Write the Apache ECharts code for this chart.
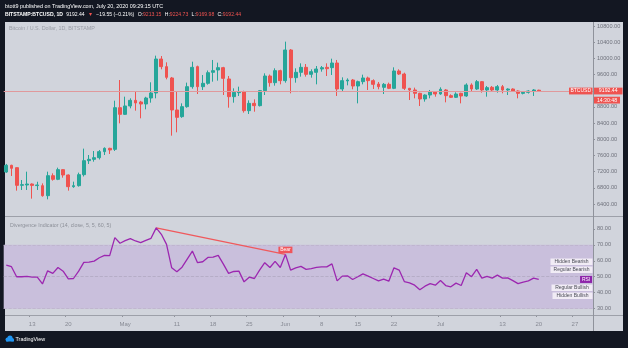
<!DOCTYPE html>
<html>
<head>
<meta charset="utf-8">
<script src="https://cdn.jsdelivr.net/npm/echarts@6/dist/echarts.min.js"></script>
<style>
  html, body { margin: 0; padding: 0; background: #131722; }
  #chart { width: 628px; height: 348px; }
</style>
</head>
<body>
<div id="chart"></div>
<script>
// ---- BTC/USD daily candles, Bitstamp, 8 Apr – 20 Jul 2020 ----
const firstDay = '2020-04-08';
const axisDays = 114; // trading days plus empty space to the right

const opens = [
  7191, 7356, 7298, 6862, 6870, 6894, 6855, 6853, 6606, 7100,
  7010, 7249, 7117, 6828, 6853, 7125, 7471, 7504, 7545, 7694,
  7776, 7751, 8781, 8616, 8823, 8962, 8921, 8872, 9020, 9144,
  9984, 9795, 9515, 8724, 8559, 8806, 9300, 9795, 9300, 9383,
  9655, 9712, 9770, 9490, 9053, 9152, 9169, 8707, 8888, 8831,
  9202, 9564, 9399, 9696, 9449, 10207, 9523, 9655, 9778, 9605,
  9655, 9737, 9778, 9770, 9885, 9243, 9441, 9465, 9317, 9424,
  9515, 9449, 9366, 9284, 9358, 9259, 9688, 9613, 9259, 9218,
  9136, 8996, 9094, 9177, 9119, 9218, 9078, 9037, 9136, 9070,
  9342, 9243, 9424, 9218, 9284, 9218, 9300, 9218, 9242, 9193,
  9135, 9160, 9193, 9213.15
];
const closes = [
  7356, 7282, 6861, 6878, 6894, 6860, 6870, 6606, 7100, 7010,
  7249, 7117, 6828, 6853, 7125, 7471, 7504, 7545, 7694, 7776,
  7735, 8781, 8616, 8823, 8962, 8897, 8872, 9020, 9144, 9984,
  9795, 9531, 8724, 8542, 8806, 9300, 9778, 9300, 9383, 9646,
  9696, 9770, 9506, 9053, 9160, 9177, 8707, 8888, 8831, 9202,
  9564, 9399, 9696, 9449, 10207, 9523, 9655, 9778, 9605, 9671,
  9737, 9770, 9745, 9885, 9243, 9449, 9465, 9317, 9424, 9515,
  9449, 9358, 9300, 9358, 9259, 9688, 9613, 9259, 9218, 9136,
  8996, 9094, 9177, 9119, 9235, 9078, 9037, 9119, 9070, 9342,
  9243, 9424, 9218, 9276, 9218, 9300, 9218, 9242, 9193, 9135,
  9160, 9193, 9218, 9192.44
];
const lows = [
  7170, 7092, 6730, 6746, 6746, 6532, 6746, 6580, 6515, 6977,
  6990, 7051, 6730, 6800, 6830, 7080, 7389, 7446, 7500, 7611,
  7636, 7710, 8394, 8600, 8765, 8707, 8518, 8740, 8905, 9012,
  9729, 9482, 8089, 8172, 8530, 8780, 9250, 9119, 9218, 9350,
  9424, 9449, 9094, 8781, 8905, 9070, 8658, 8625, 8682, 8810,
  9094, 9300, 9325, 9358, 9399, 9136, 9399, 9548, 9548, 9523,
  9358, 9671, 9564, 9589, 9070, 9177, 9333, 9235, 8888, 9358,
  9218, 9243, 9235, 9119, 9240, 9240, 9589, 9218, 8970, 9012,
  8822, 8930, 9012, 9053, 9100, 8913, 9020, 9020, 8888, 9050,
  9193, 9220, 9152, 9053, 9190, 9152, 9136, 9094, 9170, 9012,
  9110, 9130, 9070, 9169.98
];
const highs = [
  7390, 7370, 7300, 6993, 7199, 6910, 6950, 6910, 7199, 7158,
  7298, 7260, 7130, 6952, 7175, 7768, 7611, 7710, 7735, 7800,
  7790, 8954, 9465, 9053, 9012, 9177, 8950, 9050, 9408, 10067,
  10058, 9902, 9540, 9177, 8888, 9400, 9918, 9820, 9589, 9700,
  9960, 9894, 9790, 9564, 9259, 9300, 9200, 8962, 8987, 9218,
  9630, 9600, 9754, 9720, 10413, 10230, 9754, 9877, 9860, 9729,
  9811, 9811, 9877, 9992, 9960, 9531, 9506, 9490, 9449, 9597,
  9548, 9482, 9416, 9391, 9400, 9778, 9729, 9646, 9270, 9276,
  9150, 9110, 9218, 9190, 9284, 9240, 9111, 9160, 9150, 9383,
  9383, 9465, 9440, 9317, 9317, 9342, 9342, 9260, 9260, 9210,
  9180, 9210, 9240, 9224.73
];

// RSI(14) of the close, shown in the divergence pane
const rsi = [
  57.3, 56.3, 50.0, 50.0, 50.2, 49.8, 49.8, 45.5, 53.7, 52.1,
  55.8, 53.5, 48.7, 48.9, 53.5, 59.0, 59.2, 59.8, 61.9, 63.4,
  63.2, 74.5, 71.0, 72.6, 73.9, 72.4, 71.4, 72.8, 74.1, 80.6,
  76.6, 70.3, 55.6, 53.1, 56.0, 61.1, 66.1, 58.8, 59.4, 62.1,
  62.3, 63.4, 57.9, 52.1, 53.3, 53.5, 46.8, 49.7, 48.9, 54.1,
  58.8, 55.8, 59.6, 55.8, 64.0, 54.2, 55.6, 56.5, 54.6, 55.1,
  55.9, 56.2, 56.2, 58.1, 47.4, 50.4, 50.6, 48.3, 50.0, 51.8,
  50.4, 48.9, 47.4, 48.5, 47.2, 55.6, 54.2, 47.0, 46.2, 44.7,
  41.8, 44.1, 45.7, 44.7, 47.6, 44.5, 43.7, 46.0, 44.5, 52.5,
  50.0, 54.6, 49.1, 50.2, 49.1, 51.0, 49.1, 49.3, 47.6, 45.7,
  46.6, 47.4, 49.1, 48.3
];

// bearish divergence: RSI pivot highs (index into the series)
const bearFrom = 29; // 7 May
const bearTo = 54;   // 1 Jun

// axis ticks
const priceTicks = [6400, 6800, 7200, 7600, 8000, 8400, 8800, 9200, 9600, 10000, 10400, 10800];
const rsiTicks = [30, 40, 50, 60, 70, 80];
const tickDates = ['2020-04-13', '2020-04-20', '2020-05-01', '2020-05-11', '2020-05-18', '2020-05-25',
  '2020-06-01', '2020-06-08', '2020-06-15', '2020-06-22', '2020-07-01', '2020-07-13', '2020-07-20', '2020-07-27'];
const tickLabels = ['13', '20', 'May', '11', '18', '25', 'Jun', '8', '15', '22', 'Jul', '13', '20', '27'];

// calendar days for the time axis
function dayList(start, n) {
  const out = [];
  const d = new Date(start + 'T00:00:00Z');
  for (let i = 0; i < n; i++) {
    out.push(d.toISOString().slice(0, 10));
    d.setUTCDate(d.getUTCDate() + 1);
  }
  return out;
}
const days = dayList(firstDay, axisDays);

const UP = '#26a69a', DOWN = '#ef5350';
const FONT = '"Liberation Sans", "DejaVu Sans", sans-serif';
const candles = opens.map((o, i) => [o, closes[i], lows[i], highs[i]]);
const last = closes.length - 1;

const chart = echarts.init(document.getElementById('chart'), null, { renderer: 'canvas' });

const PANE_L = 3.7, PANE_R = 35;

chart.setOption({
  backgroundColor: '#131722',
  animation: false,
  grid: [
    { left: PANE_L, right: PANE_R, top: 22, height: 194.5, outerBoundsMode: 'none' },
    { left: PANE_L, right: PANE_R, top: 217.5, height: 97.5, outerBoundsMode: 'none' }
  ],
  xAxis: [
    { type: 'category', gridIndex: 0, data: days, boundaryGap: true,
      axisLine: { show: false }, axisTick: { show: false }, axisLabel: { show: false }, splitLine: { show: false } },
    { type: 'category', gridIndex: 1, data: days, boundaryGap: true,
      axisLine: { show: false },
      axisTick: { show: true, inside: false, length: 2, lineStyle: { color: '#8f929b' },
        interval: (idx, val) => tickDates.includes(val) },
      axisLabel: { show: true, margin: 6, fontSize: 6, color: '#878a94', fontFamily: FONT,
        interval: (idx, val) => tickDates.includes(val),
        formatter: (val) => tickLabels[tickDates.indexOf(val)] },
      splitLine: { show: false } }
  ],
  yAxis: [
    { type: 'value', gridIndex: 0, position: 'right', min: 6090.8, max: 10898.9,
      axisLine: { show: false }, splitLine: { show: false },
      axisTick: { show: true, length: 2, customValues: priceTicks, lineStyle: { color: '#8f929b' } },
      axisLabel: { show: true, customValues: priceTicks, margin: 4, fontSize: 5.6, color: '#6f727c',
        fontFamily: FONT, formatter: (v) => v.toFixed(2) } },
    { type: 'value', gridIndex: 1, position: 'right', min: 26.03, max: 87.12,
      axisLine: { show: false }, splitLine: { show: false },
      axisTick: { show: true, length: 2, customValues: rsiTicks, lineStyle: { color: '#8f929b' } },
      axisLabel: { show: true, customValues: rsiTicks, margin: 4, fontSize: 5.6, color: '#6f727c',
        fontFamily: FONT, formatter: (v) => v.toFixed(2) } }
  ],
  series: [
    {
      type: 'candlestick', xAxisIndex: 0, yAxisIndex: 0,
      data: candles, barWidth: 3.4,
      itemStyle: { color: UP, color0: DOWN, borderColor: UP, borderColor0: DOWN, borderWidth: 1 },
      markLine: {
        silent: true, symbol: 'none', animation: false,
        label: { show: false },
        lineStyle: { color: '#e0999c', type: 'solid', width: 1 },
        data: [{ yAxis: closes[last] }]
      }
    },
    {
      type: 'line', xAxisIndex: 1, yAxisIndex: 1,
      data: rsi, symbol: 'none', smooth: false,
      lineStyle: { color: '#9c27b0', width: 1.3 },
      z: 5,
      markArea: {
        silent: true,
        itemStyle: { color: '#c9bfdc' },
        data: [[{ yAxis: 30 }, { yAxis: 70 }]]
      },
      markLine: {
        silent: true, symbol: 'none', animation: false,
        label: { show: false },
        data: [
          { yAxis: 70, lineStyle: { color: '#bcb3cc', type: 'dashed', width: 0.8 } },
          { yAxis: 50, lineStyle: { color: '#b1a8c2', type: 'dashed', width: 0.8 } },
          { yAxis: 30, lineStyle: { color: '#bcb3cc', type: 'dashed', width: 0.8 } },
          [
            { coord: [days[bearFrom], rsi[bearFrom]] },
            { coord: [days[bearTo], rsi[bearTo]] }
          ]
        ],
        lineStyle: { color: '#f0595c', type: 'solid', width: 1.2 }
      },
      markPoint: {
        silent: true, animation: false,
        data: [
          { coord: [days[bearTo], rsi[bearTo]], symbol: 'rect', symbolSize: [14, 6.5], symbolOffset: [0, -4.5],
            itemStyle: { color: '#f0555a' },
            label: { show: true, position: 'inside', formatter: 'Bear', color: '#ffffff', fontSize: 5, fontFamily: FONT } },
          { coord: [days[112], rsi[last]], symbol: 'rect', symbolSize: [12, 7], symbolOffset: [0.8, 0],
            itemStyle: { color: '#8e24aa' },
            label: { show: true, position: 'inside', formatter: 'RSI', color: '#ffffff', fontSize: 5, fontFamily: FONT } }
        ]
      }
    }
  ]
});

// ---- panel frame, headers, price tag and legend boxes ----
const priceY = chart.convertToPixel({ yAxisIndex: 0 }, closes[last]);

function box(x, y, w, h, bg, text, color, size) {
  return [
    { type: 'rect', z: 30, shape: { x: x, y: y, width: w, height: h }, style: { fill: bg } },
    { type: 'text', z: 31, x: x + w / 2, y: y + h / 2,
      style: { text: text, fill: color, font: size + 'px ' + FONT,
        textAlign: 'center', textVerticalAlign: 'middle' } }
  ];
}
function line(x1, y1, x2, y2, color) {
  return { type: 'line', z: 15, shape: { x1: x1, y1: y1, x2: x2, y2: y2 },
    style: { stroke: color, lineWidth: 1 } };
}

const header2 = '{b|BITSTAMP:BTCUSD, 1D} {w|9192.44} {r|▼} {w|−19.55 (−0.21%)} ' +
  '{w|O:}{r|9213.15} {w|H:}{r|9224.73} {w|L:}{r|9169.98} {w|C:}{r|9192.44}';

chart.setOption({
  graphic: [
    // light panel behind both panes and the axes
    { type: 'rect', z: -10, shape: { x: 5, y: 22, width: 618, height: 309 }, style: { fill: '#d1d4dc' } },
    line(5, 216.5, 623, 216.5, '#9da0a9'),
    line(5, 315.5, 623, 315.5, '#9da0a9'),
    line(593.5, 22, 593.5, 331, '#8f929b'),

    { type: 'text', x: 5, y: 7, z: 20,
      style: { text: 'btott9 published on TradingView.com, July 20, 2020 09:29:15 UTC',
        fill: '#ffffff', font: '5.4px ' + FONT, textVerticalAlign: 'middle' } },
    { type: 'text', x: 5, y: 15, z: 20,
      style: { text: header2, textVerticalAlign: 'middle',
        rich: {
          b: { fill: '#ffffff', fontSize: 5.1, fontWeight: 'bold', fontFamily: FONT },
          w: { fill: '#ffffff', fontSize: 5.1, fontFamily: FONT },
          r: { fill: '#ef5350', fontSize: 5.1, fontFamily: FONT }
        } } },

    { type: 'text', x: 9, y: 29, z: 20,
      style: { text: 'Bitcoin / U.S. Dollar, 1D, BITSTAMP', fill: '#9a9da6',
        font: '5.4px ' + FONT, textVerticalAlign: 'middle' } },
    { type: 'text', x: 10, y: 225.5, z: 20,
      style: { text: 'Divergence Indicator (14, close, 5, 5, 60, 5)', fill: '#8d9099',
        font: '5.3px ' + FONT, textVerticalAlign: 'middle' } },

    // last price tag
    ...box(569, priceY - 3.4, 23.5, 6.8, '#ef5350', 'BTCUSD', '#ffffff', 5),
    ...box(594, priceY - 3.4, 28.5, 6.8, '#ef5350', '9192.44', '#ffffff', 5.2),
    ...box(594, priceY + 5.7, 26, 6.8, '#ef5350', '14:30:48', '#ffffff', 5.2),

    // divergence legend
    ...box(550.5, 258.5, 42, 6.6, '#f1ecf5', 'Hidden Bearish', '#4a4c56', 5),
    ...box(550.5, 266.5, 42, 6.6, '#f1ecf5', 'Regular Bearish', '#4a4c56', 5),
    ...box(551.5, 284.5, 41, 6.6, '#f1ecf5', 'Regular Bullish', '#4a4c56', 5),
    ...box(552.5, 292.5, 40, 6.6, '#f1ecf5', 'Hidden Bullish', '#4a4c56', 5),

    // footer mark
    { type: 'circle', z: 20, shape: { cx: 7.5, cy: 339.5, r: 2 }, style: { fill: '#2196f3' } },
    { type: 'circle', z: 20, shape: { cx: 10, cy: 338, r: 2.6 }, style: { fill: '#2196f3' } },
    { type: 'circle', z: 20, shape: { cx: 12.2, cy: 339.8, r: 1.8 }, style: { fill: '#2196f3' } },
    { type: 'rect', z: 20, shape: { x: 6, y: 339.5, width: 8, height: 2 }, style: { fill: '#2196f3' } },
    { type: 'text', x: 15.5, y: 339.5, z: 20,
      style: { text: 'TradingView', fill: '#ffffff', font: '5.4px ' + FONT, textVerticalAlign: 'middle' } }
  ]
});
</script>
</body>
</html>
